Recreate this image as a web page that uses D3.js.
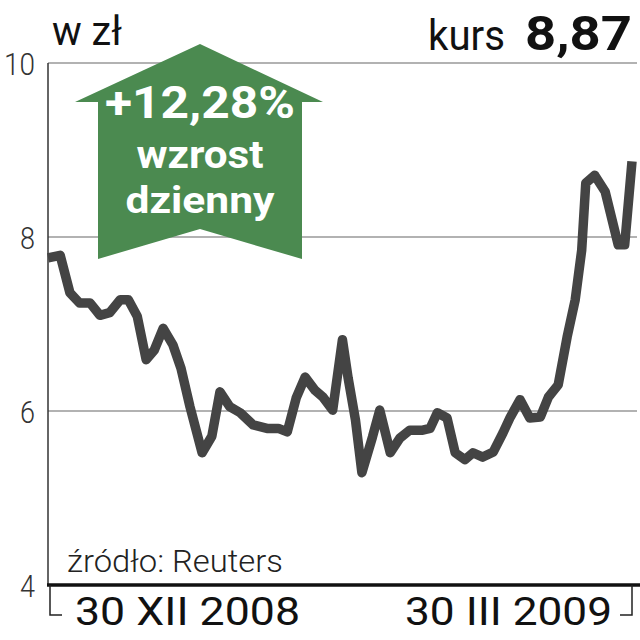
<!DOCTYPE html>
<html>
<head>
<meta charset="utf-8">
<script src="https://cdn.jsdelivr.net/npm/d3@7"></script>
<style>
  html, body { margin: 0; padding: 0; background: #fff; }
  svg { display: block; }
  text { font-family: Roboto, "Liberation Sans", sans-serif; }
</style>
</head>
<body>
<div id="chart"></div>
<script>
// trading day offset from 30 XII 2008
const days = [0, 1.5, 2.7, 3.9, 5.2, 6.4, 7.6, 8.9, 9.9, 11, 12.1, 13.1, 14.2, 15.4, 16.4, 17.5,
  19, 20.2, 21.2, 22.4, 23.7, 25.3, 27, 28.4, 29.5, 30.6, 31.7, 32.9, 33.9, 35.1, 36.3, 37,
  37.9, 38.7, 40, 40.9, 42.2, 43.4, 44.6, 46.2, 47.1, 48, 49.2, 50.2, 51.4, 52.4, 53.6, 54.9,
  56.1, 57, 58.2, 59.4, 60.7, 61.7, 62.9, 64, 65, 65.8, 66.3, 67.4, 68.7, 70.3, 71.1, 72];

const prices = [7.76, 7.79, 7.36, 7.24, 7.24, 7.10, 7.13, 7.28, 7.28, 7.09, 6.59, 6.70, 6.95, 6.76, 6.49, 6.05,
  5.52, 5.71, 6.22, 6.05, 5.98, 5.84, 5.80, 5.80, 5.76, 6.15, 6.39, 6.24, 6.16, 6.01, 6.82, 6.38,
  5.90, 5.29, 5.70, 6.01, 5.52, 5.69, 5.78, 5.78, 5.80, 5.98, 5.92, 5.52, 5.44, 5.52, 5.47, 5.53,
  5.75, 5.93, 6.13, 5.92, 5.93, 6.16, 6.30, 6.85, 7.28, 7.85, 8.62, 8.71, 8.52, 7.91, 7.91, 8.87];

const yTicks = [4, 6, 8, 10];
const dateLabels = ["30 XII 2008", "30 III 2009"];
const unitLabel = "w zł";
const rateLabel = "kurs";
const rateValue = "8,87";
const changeLines = ["+12,28%", "wzrost", "dzienny"];
const sourceLabel = "źródło: Reuters";

const W = 640, H = 640;
const plotLeft = 48, plotRight = 632, plotTop = 63, plotBottom = 585;

const svg = d3.select("#chart").append("svg")
  .attr("width", W)
  .attr("height", H);

const x = d3.scaleLinear().domain([0, 72]).range([plotLeft, plotRight]);
const y = d3.scaleLinear().domain([4, 10]).range([plotBottom, plotTop]);

// condensed look: squeeze text into the width it has in the print
function label(txt, px, py, size, width, opts = {}) {
  return svg.append("text")
    .attr("x", px).attr("y", py)
    .attr("font-size", size)
    .attr("font-weight", opts.weight || 400)
    .attr("fill", opts.fill || "#111")
    .attr("text-anchor", opts.anchor || "start")
    .attr("textLength", width)
    .attr("lengthAdjust", "spacingAndGlyphs")
    .text(txt);
}

// gridlines
svg.selectAll(".grid")
  .data(yTicks.filter(d => d > 4))
  .join("line")
    .attr("class", "grid")
    .attr("x1", plotLeft)
    .attr("x2", 637)
    .attr("y1", d => y(d))
    .attr("y2", d => y(d))
    .attr("stroke", "#999")
    .attr("stroke-width", 1.5);

// y labels
yTicks.forEach(d => {
  label(d, 35, y(d) + 12, 32, d >= 10 ? 31 : 15, {anchor: "end", weight: 300, fill: "#333"});
});

// left axis line
svg.append("line")
  .attr("x1", plotLeft).attr("x2", plotLeft)
  .attr("y1", y(10)).attr("y2", plotBottom)
  .attr("stroke", "#333")
  .attr("stroke-width", 1.5);

// arrow
const ax = 200;
const arrowPts = [
  [ax, 44], [323, 102], [302, 102], [302, 259], [ax, 229],
  [98, 259], [98, 102], [75, 102]
];
svg.append("path")
  .attr("d", d3.line()(arrowPts) + "Z")
  .attr("fill", "#4b8a50");

label(changeLines[0], ax, 118, 44, 190, {anchor: "middle", weight: 700, fill: "#fff"});
label(changeLines[1], ax, 168, 38, 127, {anchor: "middle", weight: 700, fill: "#fff"});
label(changeLines[2], ax, 213, 36, 149, {anchor: "middle", weight: 700, fill: "#fff"});

// price line
const line = d3.line()
  .x((d, i) => x(days[i]))
  .y(d => y(d));

svg.append("path")
  .datum(prices)
  .attr("d", line)
  .attr("fill", "none")
  .attr("stroke", "#444")
  .attr("stroke-width", 9.5)
  .attr("stroke-linejoin", "round");

// bottom axis
svg.append("line")
  .attr("x1", plotLeft - 1).attr("x2", W)
  .attr("y1", plotBottom).attr("y2", plotBottom)
  .attr("stroke", "#111")
  .attr("stroke-width", 3.5);

// date brackets
svg.append("path")
  .attr("d", `M50,${plotBottom} V615 H62 M632,${plotBottom} V615 H620`)
  .attr("fill", "none")
  .attr("stroke", "#222")
  .attr("stroke-width", 1.5);

label(dateLabels[0], 75, 625, 38, 225);
label(dateLabels[1], 405, 625, 38, 207);

label(sourceLabel, 67, 572, 31, 216, {weight: 300, fill: "#222"});

// header
label(unitLabel, 52, 45, 40, 70);
label(rateLabel, 428, 50, 42, 77);
label(rateValue, 525, 50, 48, 107, {weight: 700});
</script>
</body>
</html>
